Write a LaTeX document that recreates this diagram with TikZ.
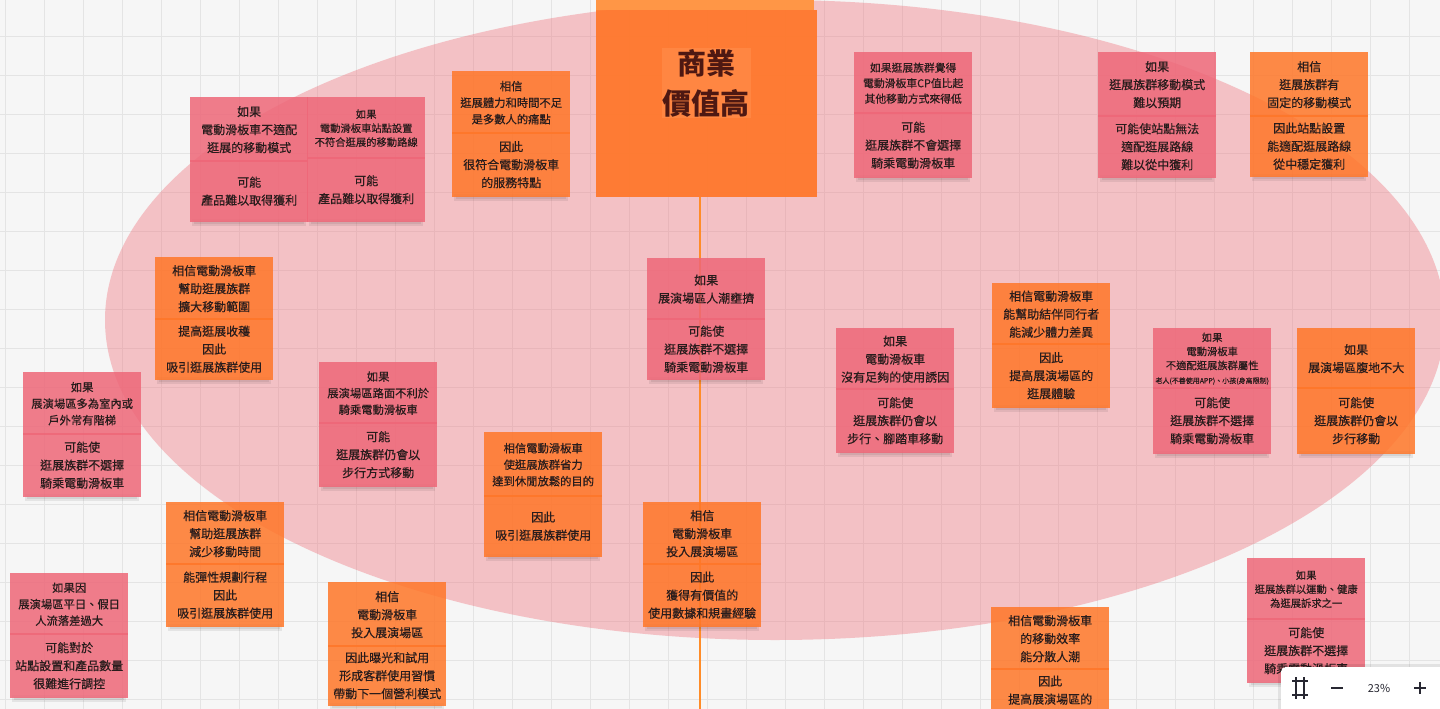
\documentclass[tikz,border=0pt]{standalone}
\usepackage{fontspec}
\newfontfamily\cjk{Noto Sans CJK TC}
\newfontfamily\cjknote{Noto Sans CJK TC}[FakeBold=0.45]
\definecolor{bgc}{RGB}{246,246,246}
\definecolor{gridc}{RGB}{228,228,228}
\definecolor{ellc}{RGB}{240,108,118}
\definecolor{pk}{RGB}{238,103,120}
\definecolor{org}{RGB}{255,118,40}
\definecolor{orgl}{RGB}{255,150,70}
\definecolor{ink}{RGB}{40,28,28}
\definecolor{titleink}{RGB}{78,24,18}
\definecolor{spinec}{RGB}{255,140,40}
\definecolor{panelink}{RGB}{40,40,50}
\tikzset{
  notepart/.style={rectangle, inner sep=0pt, minimum width=118, fill opacity=0.85, text opacity=1, text=ink, align=center, font=\cjknote\fontsize{12}{18}\selectfont},
  f12/.style={font=\cjknote\fontsize{12}{18}\selectfont},
  f11/.style={font=\cjknote\fontsize{11.3}{16.5}\selectfont},
  f10/.style={font=\cjknote\fontsize{10.3}{14}\selectfont},
  f10b/.style={font=\cjknote\fontsize{10.8}{15.5}\selectfont},
  shade1/.style={fill=black, opacity=0.07},
  spine/.style={draw=spinec, line width=2},
  gridline/.style={draw=gridc, line width=0.8},
}
% name, x, ytop, ysep, ybot, colour, top style, top text, bottom text
\newcommand\stickynote[9]{%
  \fill[shade1] (#2+2,#5-3) rectangle (#2+116,#5+4);
  \fill[shade1] (#2+4,#5-1) rectangle (#2+114,#5+2);
  \node[notepart, fill=#6, #7, minimum height={#4-#3+2}, anchor=north west] (#1a) at (#2,#3) {#8};
  \node[notepart, fill=#6, minimum height={#5-#4}, anchor=north west] (#1b) at (#2,#4) {#9};
}
\begin{document}
\begin{tikzpicture}[x=1pt,y=-1pt]
\useasboundingbox (0,0) rectangle (1440,709);
\clip (0,0) rectangle (1440,709);
\fill[bgc] (0,0) rectangle (1440,709);
\foreach \i in {0,...,37} { \draw[gridline] ({5+39*\i},0) -- ({5+39*\i},709); }
\foreach \j in {0,...,18} { \draw[gridline] (0,{-3+39*\j}) -- (1440,{-3+39*\j}); }
% big ellipse
\fill[ellc, opacity=0.38] (775,320) ellipse [x radius=670, y radius=320];
% central note
\node[rectangle, fill=orgl, minimum width=218, minimum height=12, inner sep=0pt, anchor=north west] (band) at (596,-2) {};
\node[rectangle, fill=org, fill opacity=0.92, minimum width=221, minimum height=187, inner sep=0pt, anchor=north west] (big) at (596,10) {};
\node[fill=org!88!white, inner sep=1pt, align=center, text=titleink, font=\cjk\bfseries\fontsize{29}{40}\selectfont] (title) at (706,83) {商業\\價值高};
\coordinate (spineend) at (700,709);
\draw[spine] (big.south -| spineend) -- (spineend);
% notes
\stickynote{na}{190}{97}{160}{222}{pk}{f12}{如果\\電動滑板車不適配\\逛展的移動模式}{可能\\產品難以取得獲利}
\stickynote{nb}{307}{97}{157}{222}{pk}{f10}{如果\\電動滑板車站點設置\\不符合逛展的移動路線}{可能\\產品難以取得獲利}
\stickynote{nc}{452}{71}{132}{197}{org}{f11}{相信\\逛展體力和時間不足\\是多數人的痛點}{因此\\很符合電動滑板車\\的服務特點}
\stickynote{ne}{854}{52}{112}{178}{pk}{f10b}{如果逛展族群覺得\\電動滑板車CP值比起\\其他移動方式來得低}{可能\\逛展族群不會選擇\\騎乘電動滑板車}
\stickynote{nf}{1098}{52}{115}{178}{pk}{f12}{如果\\逛展族群移動模式\\難以預期}{可能使站點無法\\適配逛展路線\\難以從中獲利}
\stickynote{ng}{1250}{52}{115}{177}{org}{f12}{相信\\逛展族群有\\固定的移動模式}{因此站點設置\\能適配逛展路線\\從中穩定獲利}
\stickynote{nh}{155}{257}{318}{380}{org}{f12}{相信電動滑板車\\幫助逛展族群\\擴大移動範圍}{提高逛展收穫\\因此\\吸引逛展族群使用}
\stickynote{ni}{647}{258}{318}{380}{pk}{f12}{如果\\展演場區人潮壅擠}{可能使\\逛展族群不選擇\\騎乘電動滑板車}
\stickynote{nj}{836}{328}{388}{453}{pk}{f12}{如果\\電動滑板車\\沒有足夠的使用誘因}{可能使\\逛展族群仍會以\\步行、腳踏車移動}
\stickynote{nk}{992}{283}{343}{408}{org}{f12}{相信電動滑板車\\能幫助結伴同行者\\能減少體力差異}{因此\\提高展演場區的\\逛展體驗}
\stickynote{nl}{1153}{328}{387}{454}{pk}{f10}{如果\\電動滑板車\\不適配逛展族群屬性\\{\fontsize{7}{9}\selectfont 老人(不善使用APP)、小孩(身高限制)}}{可能使\\逛展族群不選擇\\騎乘電動滑板車}
\stickynote{nm}{1297}{328}{387}{454}{org}{f12}{如果\\展演場區腹地不大}{可能使\\逛展族群仍會以\\步行移動}
\stickynote{nn}{23}{372}{433}{497}{pk}{f11}{如果\\展演場區多為室內或\\戶外常有階梯}{可能使\\逛展族群不選擇\\騎乘電動滑板車}
\stickynote{no}{319}{362}{422}{487}{pk}{f11}{如果\\展演場區路面不利於\\騎乘電動滑板車}{可能\\逛展族群仍會以\\步行方式移動}
\stickynote{np}{484}{432}{495}{557}{org}{f11}{相信電動滑板車\\使逛展族群省力\\達到休閒放鬆的目的}{因此\\吸引逛展族群使用}
\stickynote{nq}{166}{502}{563}{627}{org}{f12}{相信電動滑板車\\幫助逛展族群\\減少移動時間}{能彈性規劃行程\\因此\\吸引逛展族群使用}
\stickynote{nr}{10}{573}{633}{698}{pk}{f11}{如果因\\展演場區平日、假日\\人流落差過大}{可能對於\\站點設置和產品數量\\很難進行調控}
\stickynote{ns}{328}{582}{645}{706}{org}{f12}{相信\\電動滑板車\\投入展演場區}{因此曝光和試用\\形成客群使用習慣\\帶動下一個營利模式}
\stickynote{nt}{643}{502}{563}{627}{org}{f12}{相信\\電動滑板車\\投入展演場區}{因此\\獲得有價值的\\使用數據和規畫經驗}
\stickynote{nu}{991}{607}{668}{712}{org}{f12}{相信電動滑板車\\的移動效率\\能分散人潮}{因此\\提高展演場區的}
\stickynote{nv}{1247}{558}{618}{683}{pk}{f10}{如果\\逛展族群以運動、健康\\為逛展訴求之一}{可能使\\逛展族群不選擇\\騎乘電動滑板車}
% zoom panel
\fill[black, opacity=0.08] (1278,664) rectangle (1445,712);
\node[rectangle, fill=white, rounded corners=4, minimum width=170, minimum height=48, inner sep=0pt, anchor=north west] (panel) at (1281,667) {};
\draw[panelink, line width=1.4] (1292,681) -- (1308,681) (1292,695) -- (1308,695) (1296,677) -- (1296,699) (1304,677) -- (1304,699);
\draw[panelink, line width=1.4] (1331,688) -- (1343,688);
\node[text=panelink, font=\cjk\fontsize{11}{13}\selectfont] (zoomlevel) at (1379,688) {23\%};
\draw[panelink, line width=1.4] (1414,688) -- (1426,688) (1420,682) -- (1420,694);
\end{tikzpicture}
\end{document}
